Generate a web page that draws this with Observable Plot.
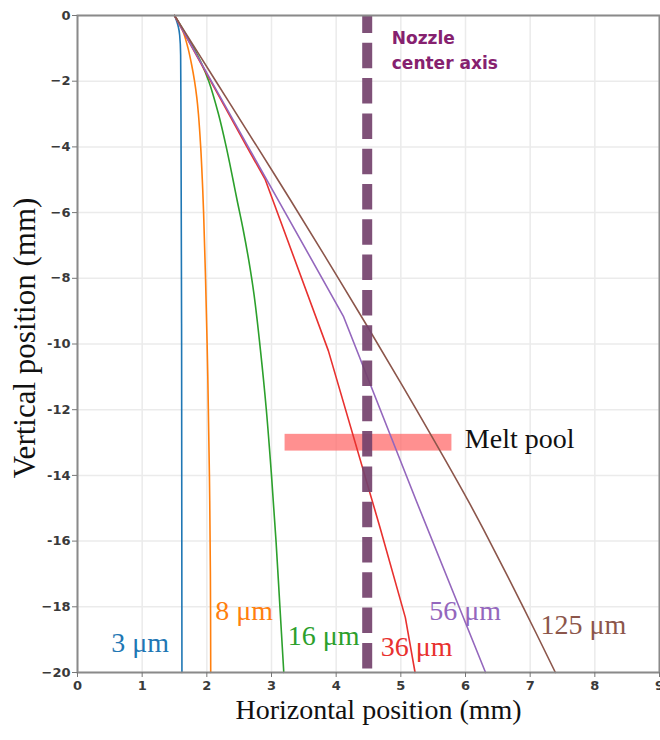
<!DOCTYPE html>
<html><head><meta charset="utf-8">
<script src="https://cdn.jsdelivr.net/npm/d3@7"></script>
<script src="https://cdn.jsdelivr.net/npm/@observablehq/plot@0.6"></script>
<style>
body{margin:0;background:#fff;}
#chart svg{display:block;}
</style></head><body><div id="chart"></div>
<script>
// Particle sizes and colours
const seriesNames = ["3 μm", "8 μm", "16 μm", "36 μm", "56 μm", "125 μm"];
const seriesColors = ["#1f77b4", "#ff7f0e", "#2ca02c", "#e8312f", "#9467bd", "#8c564b"];

// Trajectories (horizontal mm, vertical mm)
const x3 = [1.5, 1.53, 1.56, 1.58, 1.595, 1.60, 1.61, 1.615];
const y3 = [0, -0.15, -0.35, -0.6, -1.2, -3, -10, -20];
const x8 = [1.5, 1.575, 1.635, 1.71, 1.765, 1.81, 1.845, 1.87, 1.905, 1.93, 1.95, 1.98, 2.015, 2.04, 2.055, 2.06];
const y8 = [0, -0.25, -0.5, -1, -1.5, -2, -2.5, -3, -4, -5, -6, -8, -11, -14, -17, -20];
const x16 = [1.5, 1.8, 1.9, 2.03, 2.18, 2.30, 2.405, 2.47, 2.56, 2.65, 2.73, 2.83, 2.92, 3.0, 3.07, 3.13, 3.19];
const y16 = [0, -1, -1.38, -2, -3, -4, -5, -5.64, -6.5, -7.47, -8.5, -10.2, -12, -14, -16, -18, -20];
const x36 = [1.5, 2.06, 2.62, 2.90, 3.88, 4.68, 5.07, 5.22];
const y36 = [0, -2, -4, -4.98, -10.21, -15.6, -18.33, -20];
const x56 = [1.5, 2.07, 2.64, 3.11, 4.11, 5.24, 6.31];
const y56 = [0, -2, -4, -5.64, -9.15, -14.78, -20];
const x125 = [1.5, 2.14, 2.78, 3.30, 3.87, 4.46, 5.24, 6.04, 6.29, 6.89, 7.39];
const y125 = [0, -2, -4, -5.64, -7.47, -9.39, -12, -14.77, -15.69, -18, -20];

const seriesX = [x3, x8, x16, x36, x56, x125];
const seriesY = [y3, y8, y16, y36, y56, y125];
const seriesCurve = ["monotone-y", "catmull-rom", "catmull-rom", "linear", "linear", "catmull-rom"];

// Series label anchor points (data coords)
const labelX = [0.52, 2.13, 3.25, 4.69, 5.44, 7.16];
const labelY = [-19.11, -18.13, -18.89, -19.23, -18.13, -18.56];

// Annotations
const nozzleX = 4.48;
const nozzleText = "Nozzle\ncenter axis";
const meltPool = {x1: 3.21, x2: 5.79, y1: -12.75, y2: -13.26};
const meltText = "Melt pool";

// Ticks
const xTicks = [0, 1, 2, 3, 4, 5, 6, 7, 8, 9];
const yTicks = [0, -2, -4, -6, -8, -10, -12, -14, -16, -18, -20];
const yTickLabels = ["0", "−2", "−4", "−6", "−8", "-10", "-12", "-14", "-16", "−18", "−20"];

const serif = "'Liberation Serif', 'Times New Roman', serif";

const lineMarks = seriesNames.map((name, i) => {
  const pts = seriesX[i].map((x, j) => ({x, y: seriesY[i][j]}));
  return Plot.line(pts, {x: "x", y: "y", stroke: seriesColors[i], strokeWidth: 1.6, curve: seriesCurve[i]});
});

const labels = seriesNames.map((name, i) => ({name, x: labelX[i], y: labelY[i], color: seriesColors[i]}));

const plot = Plot.plot({
  width: 660,
  height: 740,
  marginLeft: 77,
  marginRight: 1,
  marginTop: 15,
  marginBottom: 68,
  x: {domain: [0, 9]},
  y: {domain: [-20, 0]},
  style: {fontFamily: "'DejaVu Sans', sans-serif", fontSize: "13px", fontWeight: "bold", color: "#3a3a3a", background: "#fff"},
  marks: [
    Plot.gridX(xTicks, {stroke: "#ebebeb", strokeOpacity: 1, strokeWidth: 1.5}),
    Plot.gridY(yTicks, {stroke: "#ebebeb", strokeOpacity: 1, strokeWidth: 1.5}),
    Plot.rect([meltPool], {x1: "x1", x2: "x2", y1: "y1", y2: "y2", fill: "#ff6b6b", fillOpacity: 0.75}),
    ...lineMarks,
    Plot.ruleX([nozzleX], {stroke: "#74426c", strokeWidth: 10, strokeDasharray: "25.5,9.8", strokeDashoffset: 7.5, strokeOpacity: 0.92}),
    Plot.frame({stroke: "#8a8a8a", strokeWidth: 2}),
    Plot.axisX(xTicks, {tickSize: 5, tickPadding: 3, stroke: "#777", fill: "#3a3a3a", label: null}),
    Plot.axisY(yTicks, {tickSize: 5, tickPadding: 2, stroke: "#777", fill: "#3a3a3a", label: null,
      tickFormat: d => yTickLabels[yTicks.indexOf(d)]}),
    Plot.text(labels, {x: "x", y: "y", text: "name", fill: "color", textAnchor: "start", fontSize: 28, fontWeight: "normal", fontFamily: serif}),
    Plot.text([nozzleText], {x: nozzleX + 0.38, y: -0.99, textAnchor: "start", fontSize: 17, fontWeight: "bold",
      fontFamily: "'DejaVu Sans', sans-serif", fill: "#86216f", lineHeight: 1.47}),
    Plot.text([meltText], {x: 5.99, y: -12.9, textAnchor: "start", fontSize: 28, fontWeight: "normal", fontFamily: serif, fill: "#111"}),
    Plot.text(["Horizontal position (mm)"], {frameAnchor: "bottom", textAnchor: "middle", dy: 46, dx: 10, fontSize: 28, fontWeight: "normal", fontFamily: serif, fill: "#111"}),
    Plot.text(["Vertical position (mm)"], {frameAnchor: "left", textAnchor: "middle", dx: -52, dy: -6, rotate: -90, fontSize: 31, fontWeight: "normal", fontFamily: serif, fill: "#111"})
  ]
});
document.getElementById("chart").appendChild(plot);
</script></body></html>
